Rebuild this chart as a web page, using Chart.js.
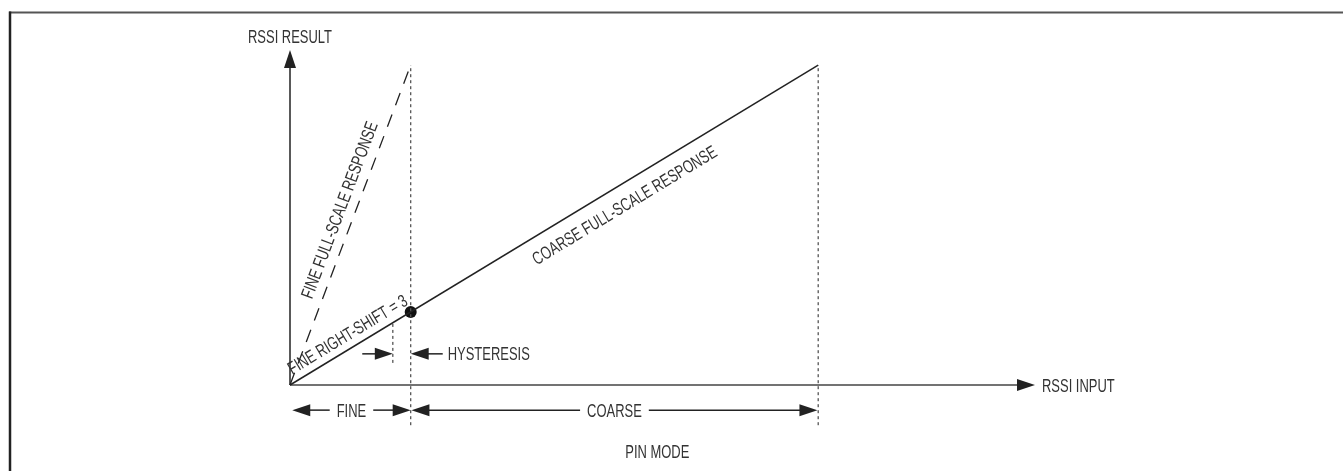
<!DOCTYPE html>
<html>
<head>
<meta charset="utf-8">
<script src="https://cdn.jsdelivr.net/npm/chart.js@4.4.1/dist/chart.umd.min.js"></script>
<style>
  html, body { margin: 0; padding: 0; background: #fff; }
  canvas { display: block; }
</style>
</head>
<body>
<canvas id="chart" width="1343" height="471"></canvas>
<script>
// RSSI result vs RSSI input (arbitrary units, 0-100 on both axes)
const fineX = [0, 16.2];
const fineY = [0, 95.5];
const coarseX = [0, 70.9];
const coarseY = [0, 95.5];
const switchPoint = [16.2, 21.8];      // fine -> coarse switch point
const boundaryX = [16.2, 70.9];        // dotted range limits
const boundaryY = [-12, 95.5];
const hysteresisX = 13.8;
const hysteresisY = [6.6, 18.8];
const hysteresisArrowY = 9.3;
const hysteresisTails = [9.7, 20.5];
const rangeNames = ['FINE', 'COARSE'];
const rangeFrom = [0.3, 16.3];
const rangeTo = [16.2, 70.8];
const rangeY = -7.5;
const modeLabel = 'PIN MODE';
const modePos = [49.3, -19.9];
const axisNames = ['RSSI INPUT', 'RSSI RESULT'];
const lineLabels = ['FINE FULL-SCALE RESPONSE', 'FINE RIGHT-SHIFT = 3', 'COARSE FULL-SCALE RESPONSE'];
const hystLabel = 'HYSTERESIS';

const INK = '#222';
const TEXT = '#333';
const FONT = '18px "Liberation Sans", Arial, sans-serif';
const SQUEEZE = 0.72;   // condensed look
const CAP = 6.5;

const pts = (xs, ys) => xs.map((x, i) => ({ x: x, y: ys[i] }));

function text(ctx, str, x, y, angle, align) {
  ctx.save();
  ctx.translate(x, y);
  ctx.rotate(angle || 0);
  ctx.scale(SQUEEZE, 1);
  ctx.font = FONT;
  ctx.fillStyle = TEXT;
  ctx.textAlign = align || 'center';
  ctx.textBaseline = 'alphabetic';
  ctx.fillText(str, 0, CAP);
  ctx.restore();
}

function textWidth(ctx, str) {
  ctx.save();
  ctx.font = FONT;
  const w = ctx.measureText(str).width * SQUEEZE;
  ctx.restore();
  return w;
}

function head(ctx, x, y, angle) {
  ctx.save();
  ctx.translate(x, y);
  ctx.rotate(angle);
  ctx.beginPath();
  ctx.moveTo(0, 0);
  ctx.lineTo(-18, -6);
  ctx.lineTo(-18, 6);
  ctx.closePath();
  ctx.fillStyle = INK;
  ctx.fill();
  ctx.restore();
}

function seg(ctx, x1, y1, x2, y2, w, color) {
  ctx.save();
  ctx.beginPath();
  ctx.moveTo(x1, y1);
  ctx.lineTo(x2, y2);
  ctx.lineWidth = w;
  ctx.strokeStyle = color || INK;
  ctx.stroke();
  ctx.restore();
}

const diagram = {
  id: 'diagram',
  beforeDraw(chart) {
    const ctx = chart.ctx;
    // frame
    seg(ctx, 9, 12.5, chart.width, 12.5, 2, '#555');
    seg(ctx, 10, 11.5, 10, chart.height, 2.5, '#222');
  },
  beforeDatasetsDraw(chart) {
    const ctx = chart.ctx;
    const xs = chart.scales.x, ys = chart.scales.y;
    const ox = xs.getPixelForValue(0), oy = ys.getPixelForValue(0);
    const xe = xs.getPixelForValue(xs.max), ye = ys.getPixelForValue(ys.max);
    // axes with arrowheads
    seg(ctx, ox, oy, xe - 10, oy, 1.5, '#444');
    head(ctx, xe, oy, 0);
    seg(ctx, ox, oy, ox, ye + 10, 1.5, INK);
    head(ctx, ox, ye, -Math.PI / 2);
    text(ctx, axisNames[0], xe + 7, oy, 0, 'left');
    text(ctx, axisNames[1], ox, ye - 14, 0, 'center');
  },
  afterDatasetsDraw(chart) {
    const ctx = chart.ctx;
    const xs = chart.scales.x, ys = chart.scales.y;
    const px = v => xs.getPixelForValue(v), py = v => ys.getPixelForValue(v);

    // labels along the response lines
    const along = (str, lx, ly, t, off) => {
      const x0 = px(lx[0]), y0 = py(ly[0]), x1 = px(lx[1]), y1 = py(ly[1]);
      const a = Math.atan2(y1 - y0, x1 - x0);
      const cx = x0 + t * (x1 - x0) + off * Math.sin(a);
      const cy = y0 + t * (y1 - y0) - off * Math.cos(a);
      text(ctx, str, cx, cy, a, 'center');
    };
    along(lineLabels[0], fineX, fineY, 0.53, 16);
    along(lineLabels[1], coarseX, coarseY, 0.122, 14);
    along(lineLabels[2], coarseX, coarseY, 0.614, -19);

    // hysteresis arrows
    const hy = py(hysteresisArrowY);
    seg(ctx, px(hysteresisTails[0]), hy, px(hysteresisX) - 10, hy, 1.5);
    head(ctx, px(hysteresisX), hy, 0);
    seg(ctx, px(hysteresisTails[1]), hy, px(boundaryX[0]) + 10, hy, 1.5);
    head(ctx, px(boundaryX[0]), hy, Math.PI);
    text(ctx, hystLabel, px(hysteresisTails[1]) + 5, hy, 0, 'left');

    // range arrows
    const ry = py(rangeY);
    rangeNames.forEach((name, i) => {
      const a = px(rangeFrom[i]), b = px(rangeTo[i]);
      const mid = (a + b) / 2, half = textWidth(ctx, name) / 2 + 7;
      seg(ctx, a + 10, ry, mid - half, ry, 1.5);
      seg(ctx, mid + half, ry, b - 10, ry, 1.5);
      head(ctx, a, ry, Math.PI);
      head(ctx, b, ry, 0);
      text(ctx, name, mid, ry, 0, 'center');
    });
    text(ctx, modeLabel, px(modePos[0]), py(modePos[1]), 0, 'center');
  }
};

const dotted = (xs, ys) => ({
  data: pts(xs, ys), showLine: true, borderColor: '#555', borderWidth: 1.3,
  borderDash: [3, 3], pointRadius: 0, clip: false
});

new Chart(document.getElementById('chart'), {
  type: 'scatter',
  data: {
    datasets: [
      ...boundaryX.map(x => dotted([x, x], boundaryY)),
      dotted([hysteresisX, hysteresisX], hysteresisY),
      { data: pts(coarseX, coarseY), showLine: true, borderColor: INK, borderWidth: 1.5, pointRadius: 0, clip: false },
      { data: pts(fineX, fineY), showLine: true, borderColor: INK, borderWidth: 1.3, borderDash: [13, 10], pointRadius: 0, clip: false },
      { data: [{ x: switchPoint[0], y: switchPoint[1] }], pointRadius: 6, backgroundColor: '#111', borderWidth: 0, clip: false }
    ]
  },
  options: {
    responsive: false,
    animation: false,
    layout: { padding: { left: 290, right: 308, top: 50, bottom: 86 } },
    scales: {
      x: { type: 'linear', min: 0, max: 100, display: false },
      y: { type: 'linear', min: 0, max: 100, display: false }
    },
    plugins: { legend: { display: false }, tooltip: { enabled: false } }
  },
  plugins: [diagram]
});
</script>
</body>
</html>
